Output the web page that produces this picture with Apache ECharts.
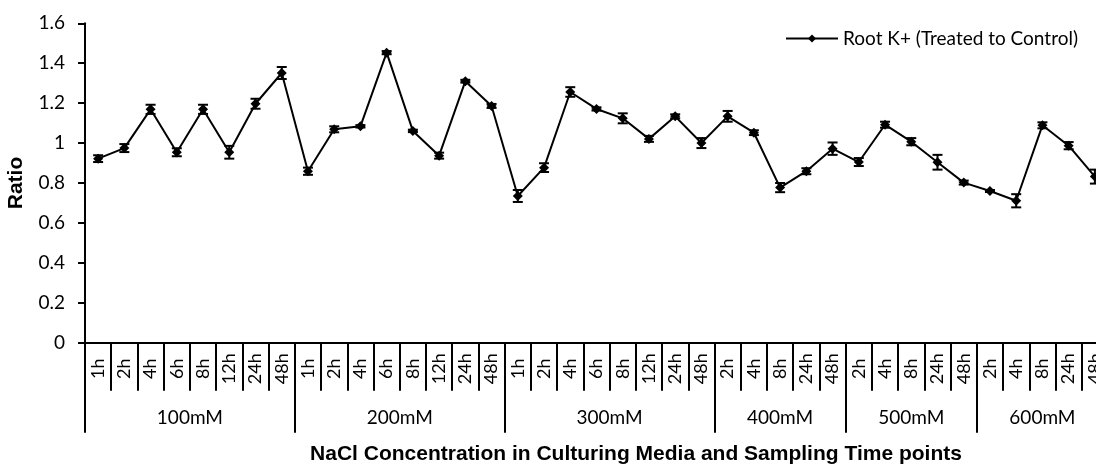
<!DOCTYPE html>
<html>
<head>
<meta charset="utf-8">
<script src="https://cdn.jsdelivr.net/npm/echarts@6/dist/echarts.min.js"></script>
<style>
html,body{margin:0;padding:0;background:#fff;}
#chart{width:1096px;height:466px;}
</style>
</head>
<body>
<div id="chart"></div>
<script>
// ---- data ----
const groupNames = ['100mM', '200mM', '300mM', '400mM', '500mM', '600mM'];
const times100 = ['1h', '2h', '4h', '6h', '8h', '12h', '24h', '48h'];
const times200 = ['1h', '2h', '4h', '6h', '8h', '12h', '24h', '48h'];
const times300 = ['1h', '2h', '4h', '6h', '8h', '12h', '24h', '48h'];
const times400 = ['2h', '4h', '8h', '24h', '48h'];
const times500 = ['2h', '4h', '8h', '24h', '48h'];
const times600 = ['2h', '4h', '8h', '24h', '48h'];

const ratio100 = [0.922, 0.975, 1.169, 0.954, 1.169, 0.954, 1.197, 1.351];
const ratio200 = [0.859, 1.069, 1.084, 1.453, 1.061, 0.937, 1.310, 1.186];
const ratio300 = [0.735, 0.877, 1.256, 1.171, 1.124, 1.021, 1.134, 1.000];
const ratio400 = [1.134, 1.052, 0.777, 0.859, 0.972];
const ratio500 = [0.905, 1.092, 1.007, 0.904, 0.802];
const ratio600 = [0.760, 0.711, 1.089, 0.987, 0.832];

const err100 = [0.017, 0.020, 0.023, 0.020, 0.023, 0.032, 0.025, 0.030];
const err200 = [0.018, 0.015, 0.006, 0.008, 0.006, 0.015, 0.007, 0.010];
const err300 = [0.030, 0.022, 0.024, 0.008, 0.025, 0.015, 0.010, 0.025];
const err400 = [0.027, 0.012, 0.023, 0.015, 0.031];
const err500 = [0.020, 0.015, 0.018, 0.037, 0.010];
const err600 = [0.005, 0.033, 0.015, 0.018, 0.035];

const yTicks = [0, 0.2, 0.4, 0.6, 0.8, 1, 1.2, 1.4, 1.6];
const seriesName = 'Root K+ (Treated to Control)';

// ---- build ----
const timeGroups = [times100, times200, times300, times400, times500, times600];
const categories = [].concat(...timeGroups);
const ratios = [].concat(ratio100, ratio200, ratio300, ratio400, ratio500, ratio600);
const errs = [].concat(err100, err200, err300, err400, err500, err600);
const errData = ratios.map((v, i) => [i, v - errs[i], v + errs[i]]);

// half-slot axis for the group row
const nHalf = categories.length * 2 + 1;
const halfCats = new Array(nHalf).fill('');
const boundaries = new Set([0]);
const centers = new Set();
let acc = 0;
timeGroups.forEach((g, k) => {
  const c = acc * 2 + g.length;
  halfCats[c] = groupNames[k];
  centers.add(c);
  acc += g.length;
  boundaries.add(acc * 2);
});

const FONT = 'Lato';
const chart = echarts.init(document.getElementById('chart'));
chart.setOption({
  animation: false,
  backgroundColor: '#ffffff',
  grid: { left: 85, width: 1023, top: 23.3, height: 319.4, containLabel: false, outerBoundsMode: 'none' },
  title: {
    text: 'NaCl Concentration in Culturing Media and Sampling Time points',
    left: 636, top: 444, textAlign: 'center', padding: 0,
    textStyle: { fontFamily: 'Liberation Sans', fontWeight: 'bold', fontSize: 21, color: '#000' }
  },
  legend: {
    right: 13, top: 24, itemWidth: 52, itemHeight: 10, itemGap: 10,
    textStyle: { fontFamily: FONT, fontSize: 19, color: '#000' },
    data: [seriesName]
  },
  xAxis: [
    {
      type: 'category', data: categories, boundaryGap: true, position: 'bottom',
      axisLine: { show: true, lineStyle: { color: '#000', width: 2 } },
      axisTick: { show: true, interval: 0, length: 48, lineStyle: { color: '#000', width: 2 } },
      axisLabel: { show: true, interval: 0, rotate: 90, margin: 26, align: 'center', verticalAlign: 'middle',
        fontFamily: FONT, fontSize: 18, color: '#000' }
    },
    {
      type: 'category', data: halfCats, boundaryGap: false, position: 'bottom', offset: 0,
      axisLine: { show: false },
      axisTick: { show: true, interval: (i) => boundaries.has(i), length: 90, lineStyle: { color: '#000', width: 2 } },
      axisLabel: { show: true, interval: (i) => centers.has(i), margin: 66,
        fontFamily: FONT, fontSize: 19, color: '#000' }
    }
  ],
  yAxis: {
    type: 'value', min: 0, max: 1.6, interval: 0.2,
    name: 'Ratio', nameLocation: 'middle', nameGap: 58, nameRotate: 90,
    nameTextStyle: { fontFamily: 'Liberation Sans', fontWeight: 'bold', fontSize: 21, color: '#000' },
    axisLine: { show: true, lineStyle: { color: '#000', width: 2 } },
    axisTick: { show: true, length: 7, lineStyle: { color: '#000', width: 2 } },
    splitLine: { show: false },
    axisLabel: { margin: 20, fontFamily: FONT, fontSize: 19, color: '#000',
      formatter: (v) => String(yTicks.find(t => Math.abs(t - v) < 1e-9) ?? v) }
  },
  series: [
    {
      name: seriesName, type: 'line', data: ratios, xAxisIndex: 0,
      symbol: 'diamond', symbolSize: 10, showSymbol: true,
      itemStyle: { color: '#000' },
      lineStyle: { color: '#000', width: 2 },
      z: 3
    },
    {
      name: 'err', type: 'custom', xAxisIndex: 0, data: errData, z: 2,
      renderItem: function (params, api) {
        const lo = api.coord([api.value(0), api.value(1)]);
        const hi = api.coord([api.value(0), api.value(2)]);
        const w = 5;
        const st = { stroke: '#000', lineWidth: 2 };
        return {
          type: 'group',
          children: [
            { type: 'line', shape: { x1: lo[0], y1: lo[1], x2: hi[0], y2: hi[1] }, style: st },
            { type: 'line', shape: { x1: lo[0] - w, y1: lo[1], x2: lo[0] + w, y2: lo[1] }, style: st },
            { type: 'line', shape: { x1: hi[0] - w, y1: hi[1], x2: hi[0] + w, y2: hi[1] }, style: st }
          ]
        };
      }
    }
  ]
});
</script>
</body>
</html>
